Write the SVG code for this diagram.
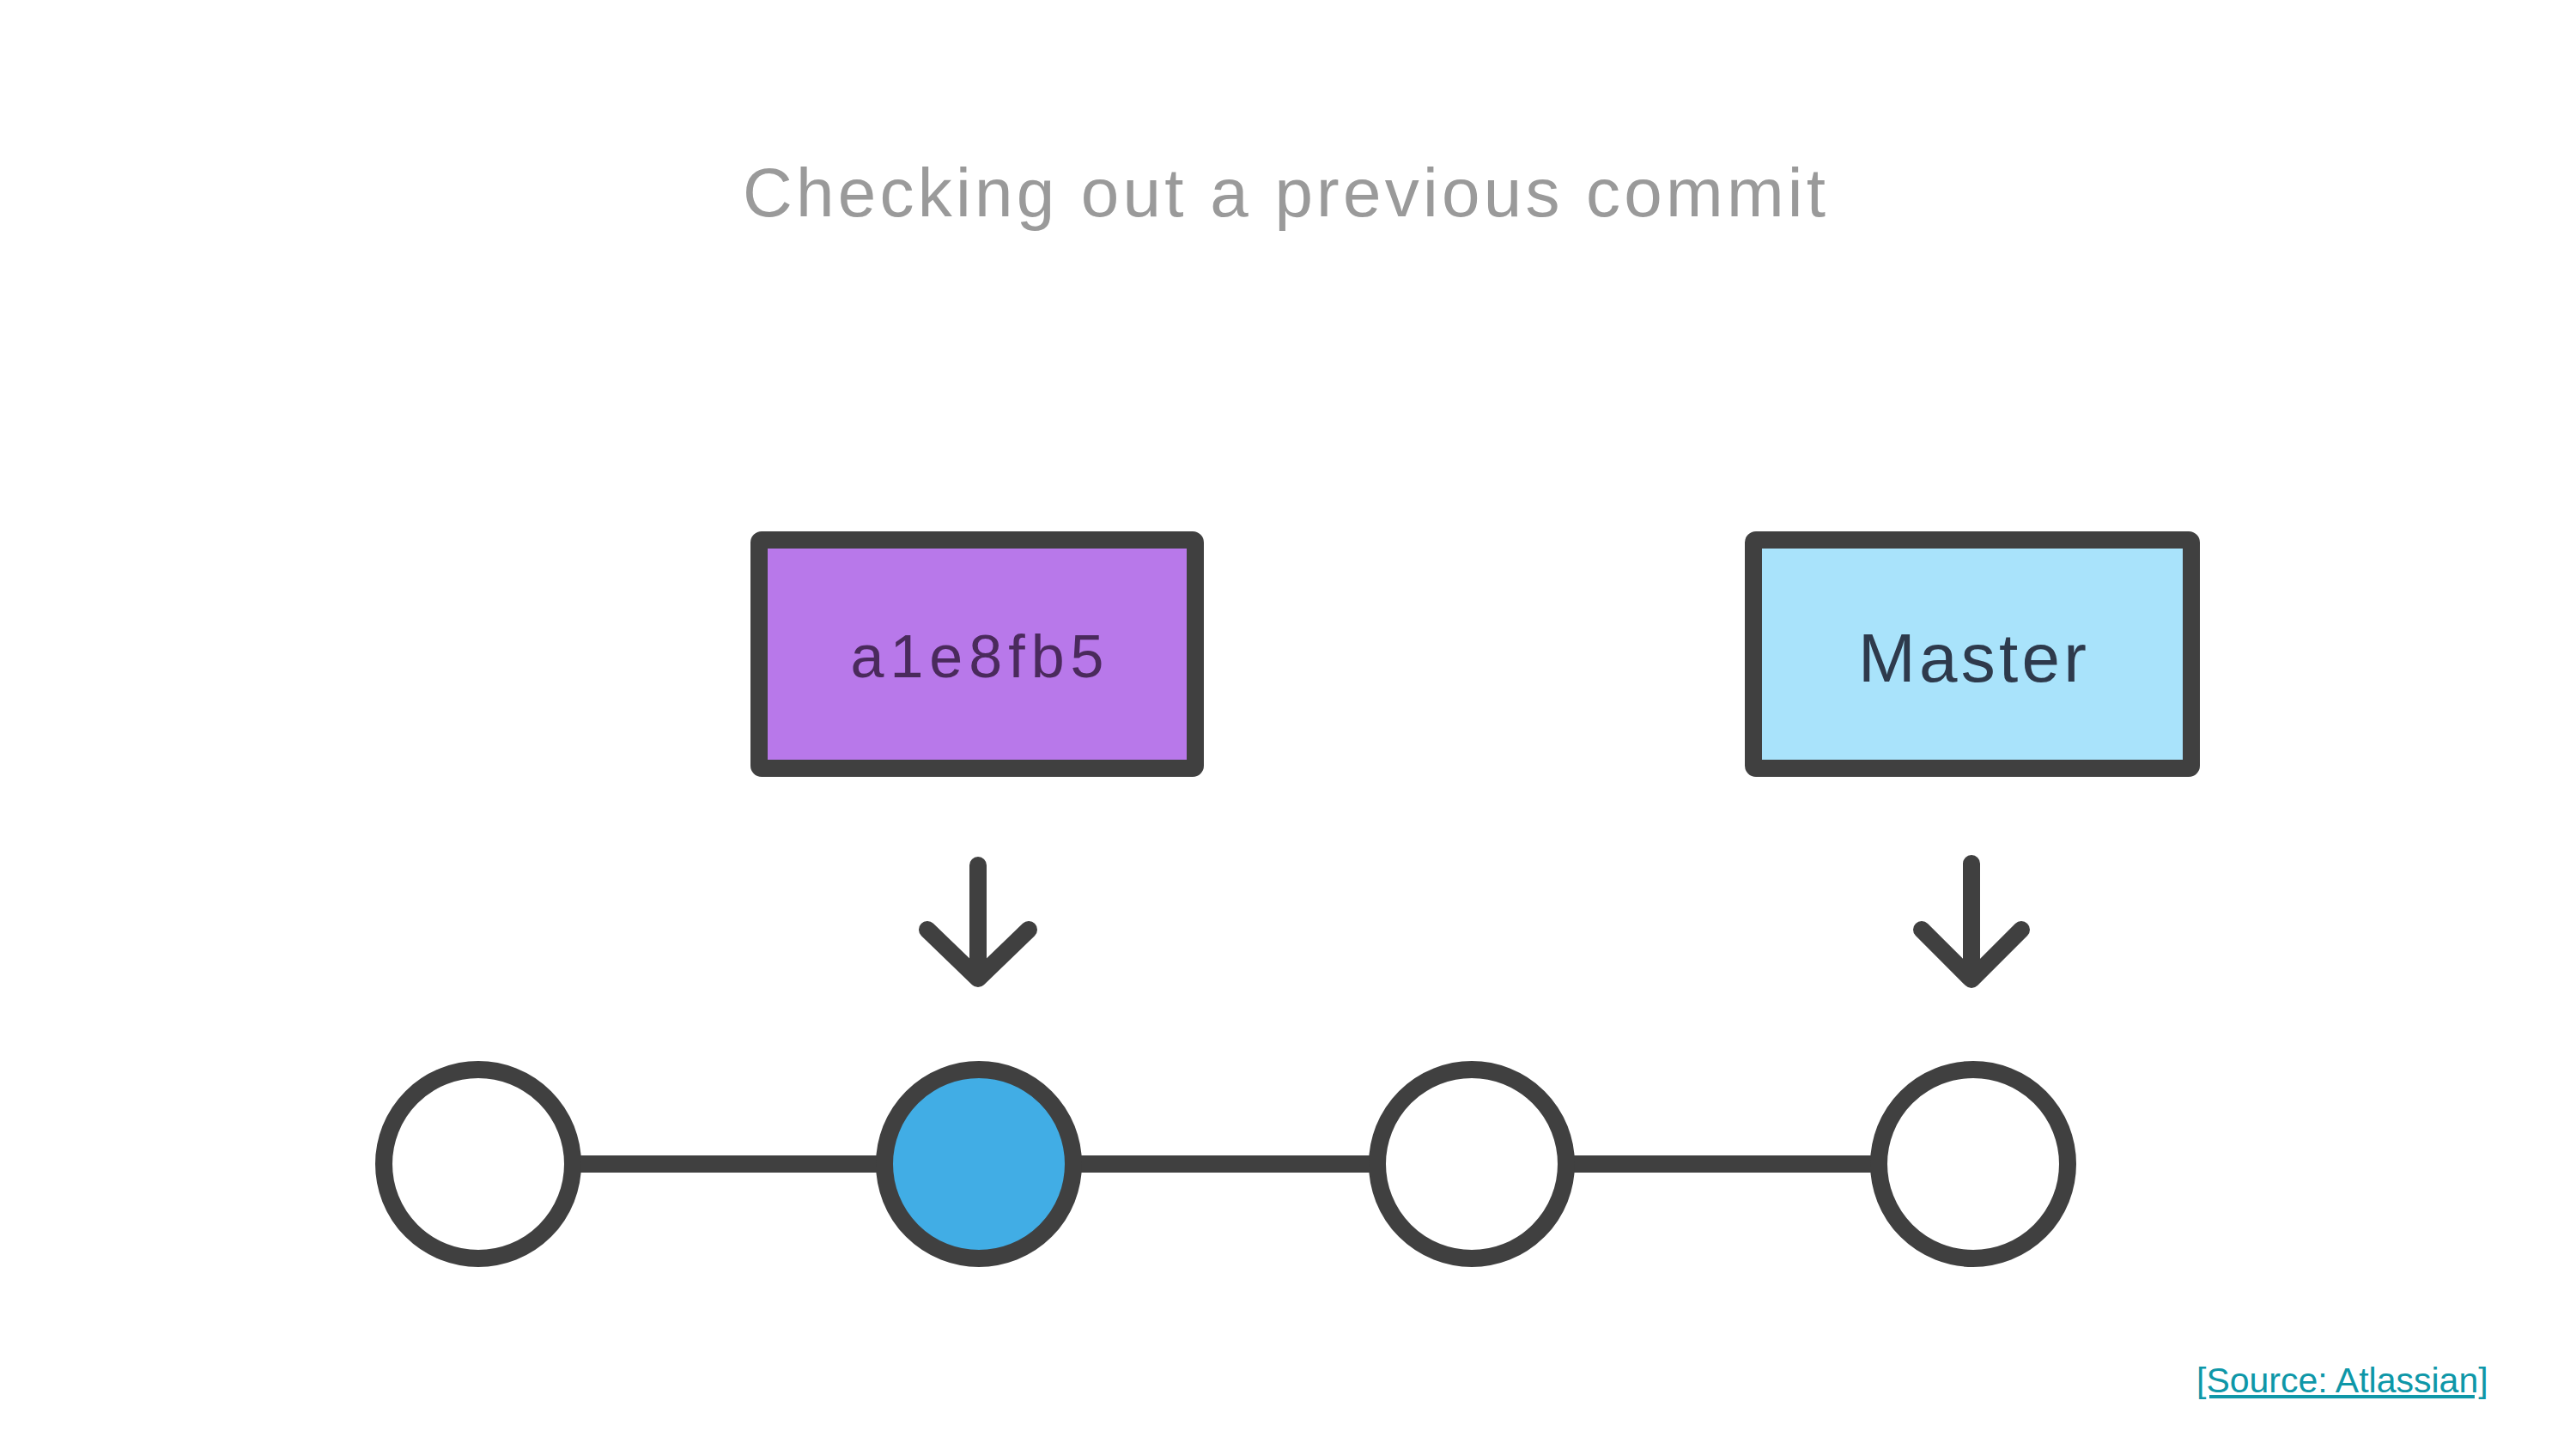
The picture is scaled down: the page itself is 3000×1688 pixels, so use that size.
<svg xmlns="http://www.w3.org/2000/svg" width="3000" height="1688" viewBox="0 0 3000 1688">
  <style>
    .box { stroke: #404040; stroke-width: 20; stroke-linejoin: round; }
    .commit { stroke: #404040; stroke-width: 20; }
    .conn { stroke: #404040; stroke-width: 20; fill: none; }
    .arrow { stroke: #404040; stroke-width: 20; fill: none; stroke-linecap: round; stroke-linejoin: round; }
    .lbl { font-family: "Liberation Sans", Arial, sans-serif; text-anchor: middle; }
  </style>
  <rect width="3000" height="1688" fill="#ffffff"/>

  <text id="title" x="865" y="252" font-family="'Liberation Sans', Arial, sans-serif" font-size="80" fill="#9a9a9a" textLength="1261" lengthAdjust="spacing">Checking out a previous commit</text>

  <g id="connectors">
    <line class="conn" x1="667" y1="1356" x2="1030" y2="1356"/>
    <line class="conn" x1="1250" y1="1356" x2="1604" y2="1356"/>
    <line class="conn" x1="1824" y1="1356" x2="2188" y2="1356"/>
    <path class="arrow" d="M1139 1008 V1140 M1080 1083 L1139 1140 L1198 1083"/>
    <path class="arrow" d="M2296 1006 V1141 M2238 1083 L2296 1141 L2354 1083"/>
  </g>

  <g id="ref-a1e8fb5">
    <rect class="box" x="884" y="629" width="508" height="266" rx="3" fill="#b878ea"/>
    <text class="lbl" x="1138" y="789" font-size="70" fill="#4a2a5c" textLength="295" lengthAdjust="spacing">a1e8fb5</text>
  </g>

  <g id="ref-master">
    <rect class="box" x="2042" y="629" width="510" height="266" rx="3" fill="#a9e3fb"/>
    <text class="lbl" x="2297" y="794" font-size="80" fill="#2e3a4c" textLength="266" lengthAdjust="spacing">Master</text>
  </g>

  <g id="commit-1"><circle class="commit" cx="557" cy="1356" r="110" fill="#ffffff"/></g>
  <g id="commit-2"><circle class="commit" cx="1140" cy="1356" r="110" fill="#41ade5"/></g>
  <g id="commit-3"><circle class="commit" cx="1714" cy="1356" r="110" fill="#ffffff"/></g>
  <g id="commit-4"><circle class="commit" cx="2298" cy="1356" r="110" fill="#ffffff"/></g>

  <text id="source" x="2558" y="1622" font-family="'Liberation Sans', Arial, sans-serif" font-size="41" fill="#0e97a8" text-decoration="underline">[Source: Atlassian]</text>
</svg>
